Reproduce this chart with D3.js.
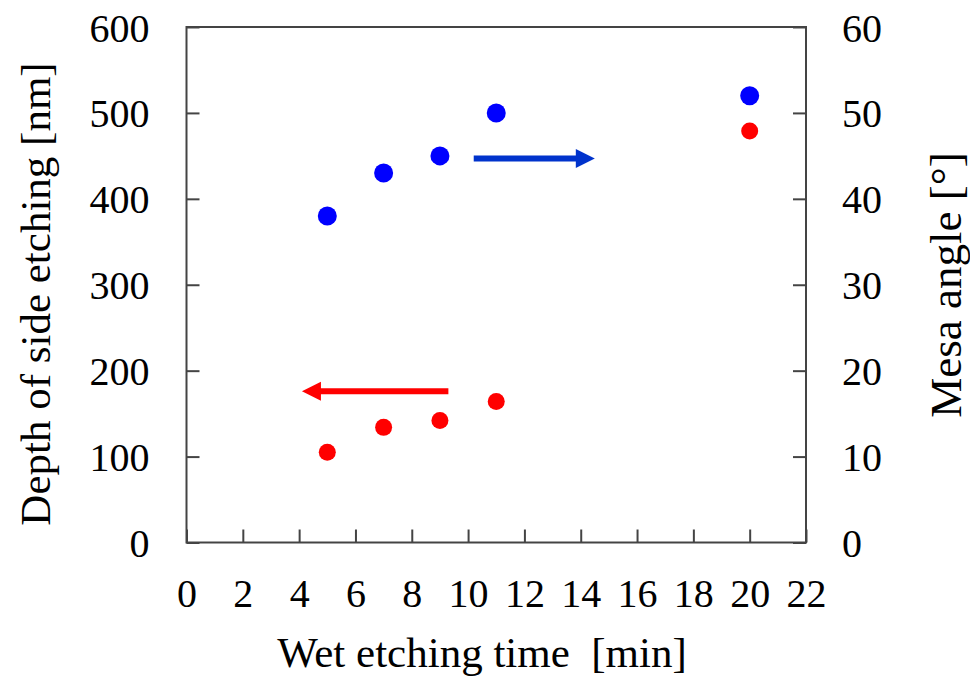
<!DOCTYPE html>
<html>
<head>
<meta charset="utf-8">
<script src="https://cdn.jsdelivr.net/npm/d3@7"></script>
<style>
  html, body { margin: 0; padding: 0; background: #fff; }
  svg { display: block; }
  svg text { font-family: "Times New Roman", "Liberation Serif", Times, serif !important; fill: #000; }
</style>
</head>
<body>
<svg id="chart" width="970" height="681"></svg>
<script>
// ---- data ----
const times = [5, 7, 9, 11, 20];                     // Wet etching time [min]
const sideEtchDepth = [105, 134, 142, 164, 479];     // Depth of side etching [nm] (left axis, red)
const mesaAngle = [38, 43, 45, 50, 52];              // Mesa angle [deg] (right axis, blue)
const xTicks = [0, 2, 4, 6, 8, 10, 12, 14, 16, 18, 20, 22];
const yLeftTicks = [0, 100, 200, 300, 400, 500, 600];
const yRightTicks = [0, 10, 20, 30, 40, 50, 60];
// annotation arrows: [x start, x end, y value]
const redArrow = [9.3, 4.1, 176];     // points to left axis
const blueArrow = [10.2, 14.5, 44.7]; // points to right axis

const svg = d3.select("#chart");
const m = { left: 186.5, right: 806, top: 27, bottom: 542.5 };

const x = d3.scaleLinear().domain([0, 22]).range([m.left, m.right]);
const yL = d3.scaleLinear().domain([0, 600]).range([m.bottom, m.top]);
const yR = d3.scaleLinear().domain([0, 60]).range([m.bottom, m.top]);

const axisColor = "#444";
const tickFont = 40;

// frame
svg.append("rect")
  .attr("x", m.left).attr("y", m.top)
  .attr("width", m.right - m.left).attr("height", m.bottom - m.top)
  .attr("fill", "none").attr("stroke", axisColor).attr("stroke-width", 2);

// bottom axis (inward ticks)
const gx = svg.append("g").attr("transform", `translate(0,${m.bottom})`)
  .call(d3.axisBottom(x).tickValues(xTicks).tickSize(-13).tickPadding(0).tickFormat(d3.format("d")));
gx.select(".domain").remove();
gx.selectAll(".tick line").attr("stroke", axisColor).attr("stroke-width", 2);
gx.selectAll(".tick text").attr("font-size", tickFont).attr("y", 64).attr("dy", 0);

// left axis
const gl = svg.append("g").attr("transform", `translate(${m.left},0)`)
  .call(d3.axisLeft(yL).tickValues(yLeftTicks).tickSize(-13).tickPadding(0).tickFormat(d3.format("d")));
gl.select(".domain").remove();
gl.selectAll(".tick line").attr("stroke", axisColor).attr("stroke-width", 2);
gl.selectAll(".tick text").attr("font-size", tickFont).attr("x", -37).attr("dy", "0.35em");

// right axis
const gr = svg.append("g").attr("transform", `translate(${m.right},0)`)
  .call(d3.axisRight(yR).tickValues(yRightTicks).tickSize(-13).tickPadding(0).tickFormat(d3.format("d")));
gr.select(".domain").remove();
gr.selectAll(".tick line").attr("stroke", axisColor).attr("stroke-width", 2);
gr.selectAll(".tick text").attr("font-size", tickFont).attr("x", 36).attr("dy", "0.35em");

// axis titles
svg.append("text")
  .attr("x", 482).attr("y", 667)
  .attr("text-anchor", "middle").attr("font-size", 43)
  .style("white-space", "pre")
  .text("Wet etching time  [min]");

svg.append("text")
  .attr("transform", `translate(50,${294}) rotate(-90)`)
  .attr("text-anchor", "middle").attr("font-size", 43)
  .text("Depth of side etching [nm]");

svg.append("text")
  .attr("transform", `translate(961,${285}) rotate(-90)`)
  .attr("text-anchor", "middle").attr("font-size", 45)
  .text("Mesa angle [°]");

// points
const pts = times.map((t, i) => ({ t, d: sideEtchDepth[i], a: mesaAngle[i] }));
svg.append("g").selectAll("circle.blue").data(pts).join("circle")
  .attr("class", "blue")
  .attr("cx", d => x(d.t)).attr("cy", d => yR(d.a)).attr("r", 9.5).attr("fill", "#0000ff");
svg.append("g").selectAll("circle.red").data(pts).join("circle")
  .attr("class", "red")
  .attr("cx", d => x(d.t)).attr("cy", d => yL(d.d)).attr("r", 8.5).attr("fill", "#ff0000");

// arrows
function arrow(x0, x1, y, color) {
  const dir = Math.sign(x1 - x0);
  const headLen = 19, headHalf = 9.5;
  const base = x1 - dir * headLen;
  svg.append("line")
    .attr("x1", x0).attr("x2", base + dir * 1).attr("y1", y).attr("y2", y)
    .attr("stroke", color).attr("stroke-width", 6);
  svg.append("path")
    .attr("d", `M${x1},${y} L${base},${y - headHalf} L${base},${y + headHalf} Z`)
    .attr("fill", color);
}
arrow(x(redArrow[0]), x(redArrow[1]), yL(redArrow[2]), "#ff0000");
arrow(x(blueArrow[0]), x(blueArrow[1]), yR(blueArrow[2]), "#0033cc");
</script>
</body>
</html>
